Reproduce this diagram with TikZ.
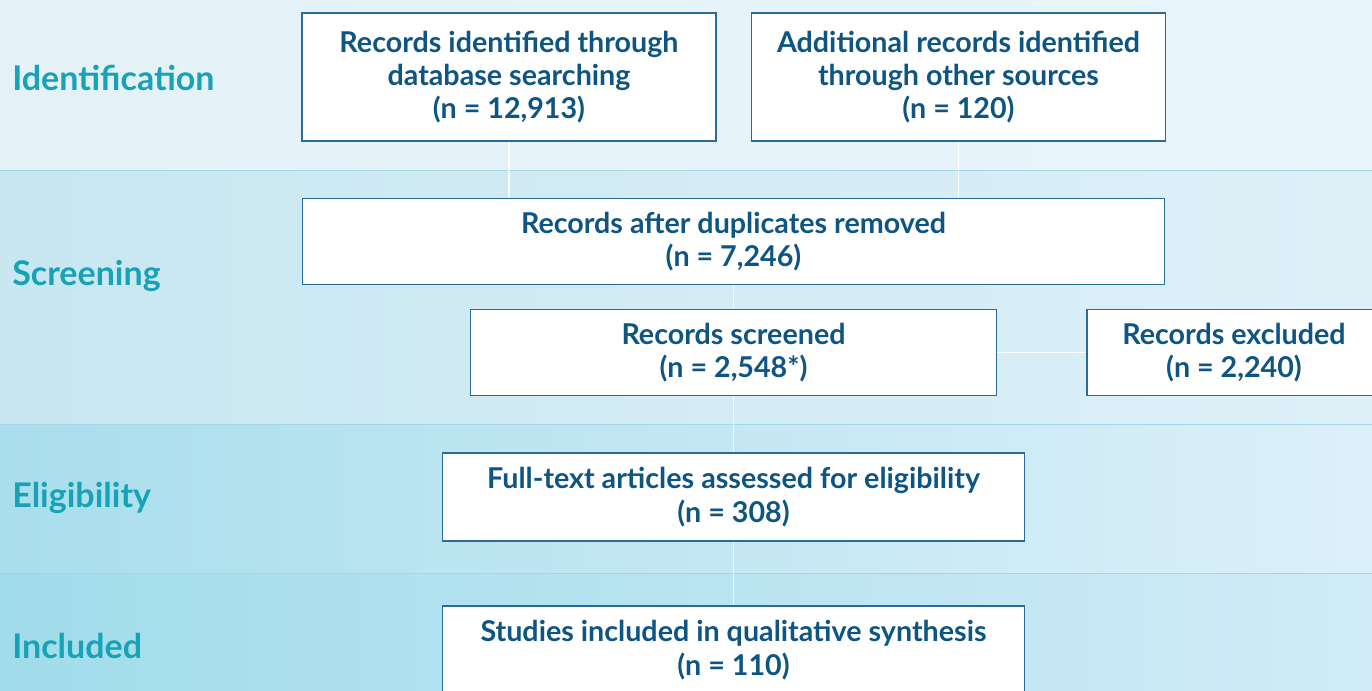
\documentclass[tikz,border=0pt]{standalone}
\usepackage{fontspec}
\setmainfont{Lato}[BoldFont={Lato Bold}]
\usepackage{xcolor}
\definecolor{boxtext}{HTML}{0E5583}
\definecolor{boxline}{HTML}{2B6B95}
\definecolor{stagecol}{HTML}{18A2B6}
\definecolor{identL}{HTML}{E4F2F8}
\definecolor{identM}{HTML}{CFE9F1}
\definecolor{identR}{HTML}{E8F4FB}
\definecolor{screenL}{HTML}{C8E7F1}
\definecolor{screenM}{HTML}{B4E1EE}
\definecolor{screenR}{HTML}{DDF0F8}
\definecolor{eligL}{HTML}{A9DEEC}
\definecolor{eligM}{HTML}{A6DFEC}
\definecolor{eligR}{HTML}{DCF0F9}
\definecolor{inclL}{HTML}{A1DCEA}
\definecolor{inclM}{HTML}{A6DDEB}
\definecolor{inclR}{HTML}{D0EBF7}
\definecolor{bandline}{HTML}{A3D6E6}

\begin{document}
\begin{tikzpicture}[x=0.75pt,y=-0.75pt,
  box/.style={draw=boxline, line width=0.9pt, fill=white, align=center,
    text=boxtext, font=\fontsize{21.5}{25}\selectfont\bfseries, inner sep=0pt},
  stage/.style={anchor=west, text=stagecol, font=\fontsize{25.5}{28}\selectfont\bfseries, inner sep=0pt},
  link/.style={draw=white, line width=1.1pt, opacity=0.85}]
\useasboundingbox (0,0) rectangle (1372,690);
\clip (0,0) rectangle (1372,690);
% background bands
\shade[left color=identL, middle color=identM, right color=identR] (0,0) rectangle (1372,170);
\shade[left color=screenL, middle color=screenM, right color=screenR] (0,170) rectangle (1372,424);
\shade[left color=eligL, middle color=eligM, right color=eligR] (0,424) rectangle (1372,573);
\shade[left color=inclL, middle color=inclM, right color=inclR] (0,573) rectangle (1372,690);
\draw[bandline, line width=0.6pt] (0,170) -- (1372,170);
\draw[bandline, line width=0.6pt] (0,424) -- (1372,424);
\draw[bandline, line width=0.6pt] (0,573) -- (1372,573);
% stages
\node[stage] (ident) at (12,78) {Identification};
\node[stage] (screen) at (12,276) {Screening};
\node[stage] (elig) at (12,498) {Eligibility};
\node[stage] (incl) at (12,646) {Included};
% boxes
\node[box, minimum width=310.5pt, minimum height=96pt] (db) at (509,77)
  {Records identified through\\database searching\\(n = 12,913)};
\node[box, minimum width=310pt, minimum height=96pt] (other) at (958.5,77)
  {Additional records identified\\through other sources\\(n = 120)};
\node[box, minimum width=647pt, minimum height=65pt] (dup) at (733.5,241.5)
  {Records after duplicates removed\\(n = 7,246)};
\node[box, minimum width=394pt, minimum height=65pt] (scr) at (733.5,352.5)
  {Records screened\\(n = 2,548*)};
\node[box, minimum width=220.5pt, minimum height=65pt] (excl) at (1234,352.5)
  {Records excluded\\(n = 2,240)};
\node[box, minimum width=436pt, minimum height=66pt] (full) at (733.5,497)
  {Full-text articles assessed for eligibility\\(n = 308)};
\node[box, minimum width=436pt, minimum height=66pt] (qual) at (733.5,650)
  {Studies included in qualitative synthesis\\(n = 110)};
% connectors
\draw[link] (db.south) -- (db.south |- dup.north);
\draw[link] (other.south) -- (other.south |- dup.north);
\draw[link] (dup.south) -- (scr.north);
\draw[link] (scr.east) -- (excl.west);
\draw[link] (scr.south) -- (full.north);
\draw[link] (full.south) -- (qual.north);
\end{tikzpicture}
\end{document}
